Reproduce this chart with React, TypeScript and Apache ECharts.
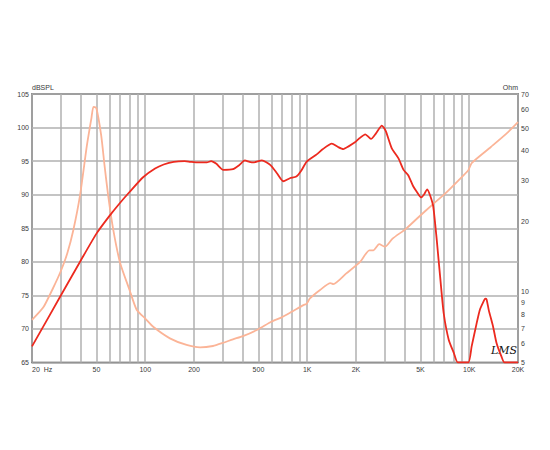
import React, { useEffect, useRef } from "react";
import * as echarts from "echarts";

// SPL response (dB SPL) vs frequency (Hz)
const SPL_FREQ = [
  20, 30, 40, 50, 60, 70, 80, 97, 115, 130, 150, 175, 190, 212, 240, 255, 275,
  303, 348, 380, 412, 440, 464, 525, 593, 650, 711, 781, 857, 920, 990, 1144,
  1250, 1418, 1550, 1671, 1800, 1970, 2100, 2282, 2475, 2650, 2889, 3050, 3326,
  3658, 3933, 4200, 4500, 4743, 5040, 5250, 5503, 5750, 6000, 6300, 6640, 6960,
  7470, 8040, 8500, 9870, 10350, 11100, 11610, 12100, 12560, 12800, 13200,
  14050, 14740, 15800, 16500, 20000,
];
const SPL_DB = [
  67.4, 74.9, 80.2, 84.2, 86.8, 88.8, 90.4, 92.6, 93.9, 94.5, 94.9, 95.0, 94.9,
  94.8, 94.8, 95.0, 94.6, 93.7, 93.8, 94.4, 95.1, 94.9, 94.8, 95.1, 94.4, 93.2,
  92.0, 92.45, 92.7, 93.6, 94.9, 96.0, 96.8, 97.6, 97.1, 96.8, 97.2, 97.8, 98.4,
  99.0, 98.3, 99.1, 100.3, 99.5, 96.9, 95.4, 93.7, 92.9, 91.3, 90.45, 89.6, 90.0,
  90.8, 89.8, 88.2, 83.3, 77.3, 72.3, 68.4, 66.4, 65, 65, 67.4, 70.8, 72.8, 73.8,
  74.5, 74.4, 72.8, 70.3, 67.9, 65.9, 65, 65,
];

// Impedance (Ohm) vs frequency (Hz)
const Z_FREQ = [
  20, 23.5, 27, 30, 33, 36, 39.6, 43.6, 46.5, 47.9, 49.9, 53.5, 56, 59, 63.5, 70,
  80, 88.5, 100, 112, 142, 180, 218, 262, 303, 348, 401, 496, 600, 695, 802, 948,
  990, 1039, 1200, 1391, 1450, 1743, 2113, 2415, 2559, 2779, 3024, 3363, 4064,
  4878, 5885, 7095, 8560, 9870, 10350, 13600, 16900, 20000,
];
const Z_OHM = [
  7.6, 8.6, 10.4, 12.2, 14.6, 18.4, 25.9, 42, 55, 61.7, 61, 46.5, 35, 25.9, 18.4,
  13.3, 10.2, 8.4, 7.7, 7.1, 6.34, 5.94, 5.8, 5.88, 6.07, 6.28, 6.48, 6.92, 7.46,
  7.79, 8.23, 8.79, 8.9, 9.38, 10.2, 10.9, 10.8, 12.0, 13.4, 15.05, 15.05, 16.0,
  15.6, 16.9, 18.6, 20.9, 23.5, 26.3, 29.9, 33.1, 35.5, 41.6, 47.3, 53.1,
];

const X_LABELS = [20, 50, 100, 200, 500, 1000, 2000, 5000, 10000, 20000];
const X_GRID = [
  20, 30, 40, 50, 60, 70, 80, 90, 100, 200, 300, 400, 500, 600, 700, 800, 900,
  1000, 2000, 3000, 4000, 5000, 6000, 7000, 8000, 9000, 10000, 20000,
];
const OHM_TICKS = [5, 6, 7, 8, 9, 10, 20, 30, 40, 50, 60, 70];

const LG = (v: number) => Math.log10(v);

const fmtFreq = (v: number) => {
  const f = Math.round(Math.pow(10, v));
  if (f === 20) return "20  Hz";
  if (f >= 1000) return f / 1000 + "K";
  return String(f);
};

export default function App() {
  const ref = useRef<HTMLDivElement>(null);
  useEffect(() => {
    if (!ref.current) return;
    const chart = echarts.init(ref.current, null, { renderer: "svg" });
    const labelStyle = {
      fontSize: 7,
      color: "#3a3a3a",
      fontFamily: "Liberation Sans, Arial, sans-serif",
    };
    chart.setOption({
      animation: false,
      backgroundColor: "#fff",
      grid: {
        left: 32,
        right: 32,
        top: 94,
        bottom: 87.5,
        show: true,
        borderColor: "#3c3c3c",
        borderWidth: 1.5,
        backgroundColor: "#fff",
      },
      xAxis: {
        type: "value",
        min: LG(20),
        max: LG(20000),
        axisLine: { show: false },
        axisTick: { show: false, customValues: X_GRID.map(LG) },
        splitLine: { show: true, lineStyle: { color: "#b0b0b0", width: 1.5 } },
        axisLabel: {
          ...labelStyle,
          margin: 3,
          customValues: X_LABELS.map(LG),
          formatter: fmtFreq,
          alignMinLabel: "left",
          alignMaxLabel: "center",
        },
      },
      yAxis: [
        {
          type: "value",
          min: 65,
          max: 105,
          interval: 5,
          name: "dBSPL",
          nameLocation: "end",
          nameGap: 2,
          nameTextStyle: { ...labelStyle, align: "left", verticalAlign: "bottom" },
          axisLine: { show: false },
          axisTick: { show: false },
          splitLine: { show: true, lineStyle: { color: "#b0b0b0", width: 1.5 } },
          axisLabel: { ...labelStyle, margin: 3 },
        },
        {
          type: "value",
          position: "right",
          min: LG(5),
          max: LG(70),
          name: "Ohm",
          nameLocation: "end",
          nameGap: 2,
          nameTextStyle: { ...labelStyle, align: "right", verticalAlign: "bottom" },
          axisLine: { show: false },
          axisTick: { show: false, customValues: OHM_TICKS.map(LG) },
          splitLine: { show: false },
          axisLabel: {
            ...labelStyle,
            margin: 3,
            customValues: OHM_TICKS.map(LG),
            formatter: (v: number) => String(Math.round(Math.pow(10, v))),
          },
        },
      ],
      graphic: [
        {
          type: "text",
          left: 491,
          top: 345,
          style: {
            text: "LMS",
            font: "italic 11px 'DejaVu Serif', serif",
            fill: "#111",
          },
        },
      ],
      series: [
        {
          type: "line",
          yAxisIndex: 1,
          data: Z_FREQ.map((f, i) => [LG(f), LG(Z_OHM[i])]),
          showSymbol: false,
          smooth: 0.2,
          lineStyle: { color: "#fbb497", width: 1.8 },
          z: 2,
        },
        {
          type: "line",
          yAxisIndex: 0,
          data: SPL_FREQ.map((f, i) => [LG(f), SPL_DB[i]]),
          showSymbol: false,
          smooth: 0.2,
          lineStyle: { color: "#ec2a1f", width: 1.8 },
          z: 3,
        },
      ],
    });
    return () => chart.dispose();
  }, []);
  return (
    <div
      ref={ref}
      style={{ position: "fixed", left: 0, top: 0, width: 550, height: 450 }}
    />
  );
}
